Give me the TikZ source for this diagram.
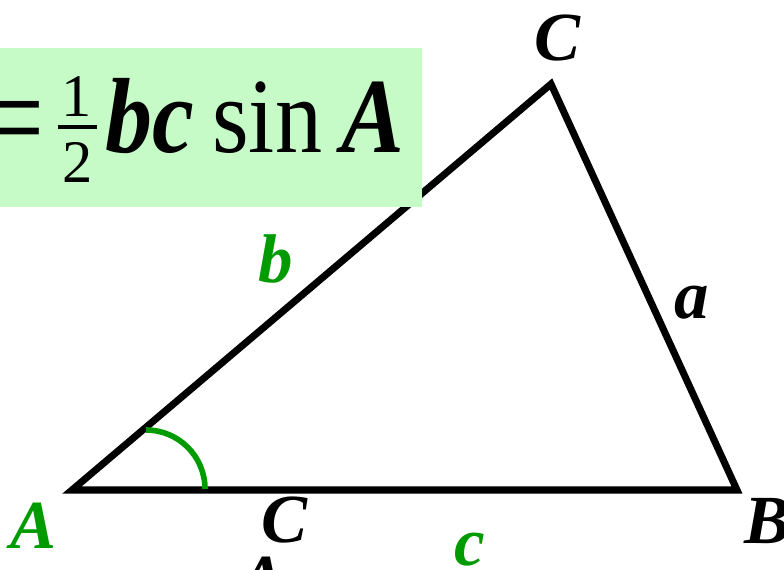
\documentclass[tikz,border=0pt]{standalone}
\usepackage{fontspec}
\setmainfont{Liberation Serif}
\newfontfamily\boxfont[FakeStretch=0.88]{Liberation Serif}
\usepackage{tikz}
\usetikzlibrary{positioning, calc}
\definecolor{boxgreen}{RGB}{198,251,200}
\definecolor{markgreen}{RGB}{0,155,0}
\newcommand{\lblfont}{\fontsize{49}{50}\selectfont\bfseries\itshape}
\newcommand{\areafont}{\boxfont\fontsize{76}{78}\selectfont}
\tikzset{
  side/.style={line width=5pt, line join=miter},
  anglemark/.style={line width=4pt, draw=markgreen},
  vlabel/.style={font=\lblfont, inner sep=0pt, anchor=base},
  glabel/.style={vlabel, text=markgreen},
  areatext/.style={font=\areafont, inner sep=0pt, anchor=base west},
  fracdigit/.style={font=\fontsize{43}{44}\selectfont, inner sep=0pt, anchor=base},
  eqsign/.style={font=\fontsize{95}{95}\selectfont, inner sep=0pt, anchor=base east}
}
\begin{document}
\begin{tikzpicture}[x=0.025cm, y=0.025cm]
    \useasboundingbox (0,0) rectangle (784,-570);
    \clip (0,0) rectangle (784,-570);
    \coordinate (A) at (72,-490);
    \coordinate (B) at (737,-490);
    \coordinate (C) at (551,-84);
    \draw[side] (A) -- (B) -- (C) -- cycle;
    \coordinate (arcstart) at (146,-430);
    \draw[anglemark] (arcstart) arc[start angle=90, end angle=0, radius=59];

    \fill[boxgreen] (-10,-48) rectangle (422,-207);
    \node[eqsign] (eq) at (46,-163) {=};
    \node[fracdigit] (num) at (77,-117) {1};
    \node[fracdigit] (den) at (78,-183) {2};
    \draw[line width=3pt] (58,-127) -- (97,-127);
    \node[areatext] (bc) at (105,-153) {\bfseries\itshape bc};
    \node[areatext] (sin) at (212,-153) {sin};
    \node[areatext, anchor=base east] (angA) at (405,-153) {\bfseries\itshape A};

    \node[vlabel] (labC) at (557,-61) {C};
    \node[vlabel] (laba) at (692,-319) {a};
    \node[glabel] (labb) at (276,-283) {b};
    \node[glabel] (labA) at (33,-548) {A};
    \node[vlabel] (labB) at (767,-543) {B};
    \node[glabel] (labc) at (470,-565) {c};
    \node[vlabel] (labC2) at (284,-542) {C};
    \node[vlabel, anchor=north] (cutA) at (262,-557) {A};
\end{tikzpicture}
\end{document}
